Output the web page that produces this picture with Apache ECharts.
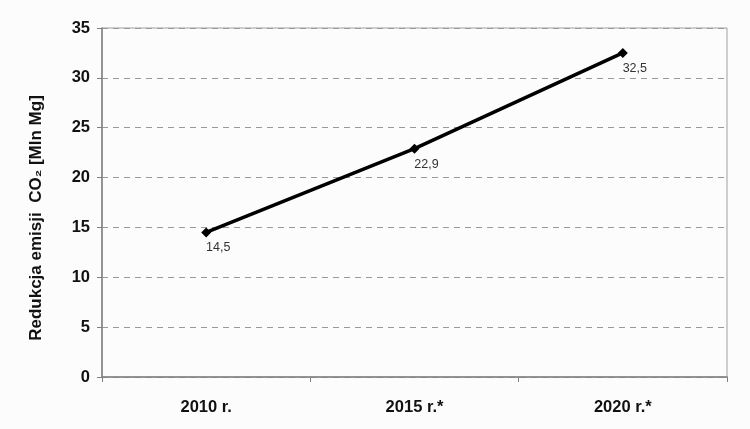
<!DOCTYPE html>
<html><head><meta charset="utf-8">
<script src="https://cdn.jsdelivr.net/npm/echarts@6/dist/echarts.min.js"></script>
<style>html,body{margin:0;padding:0;background:#fff}#c{width:750px;height:429px}</style>
</head><body><div id="c"></div>
<script>
const categories = ['2010 r.', '2015 r.*', '2020 r.*'];
const values = [14.5, 22.9, 32.5];
const yTicks = [0, 5, 10, 15, 20, 25, 30, 35];

const chart = echarts.init(document.getElementById('c'));
const F = '"Liberation Sans", Arial, sans-serif';
chart.setOption({
  animation: false,
  backgroundColor: '#fcfcfc',
  grid: { left: 102, right: 23, top: 28, bottom: 52, show: true, borderColor: '#a0a0a0', borderWidth: 1, backgroundColor: 'transparent' },
  xAxis: {
    type: 'category', data: categories, boundaryGap: true,
    axisLine: { lineStyle: { color: '#808080', width: 1.5 } },
    axisTick: { show: true, length: 5, lineStyle: { color: '#808080' } },
    axisLabel: { color: '#111', fontFamily: F, fontWeight: 'bold', fontSize: 16.5, margin: 22 }
  },
  yAxis: {
    type: 'value', min: yTicks[0], max: yTicks[yTicks.length - 1], interval: 5,
    axisLine: { show: true, lineStyle: { color: '#808080', width: 1.5 } },
    axisTick: { show: true, length: 5, lineStyle: { color: '#808080' } },
    axisLabel: { color: '#111', fontFamily: F, fontWeight: 'bold', fontSize: 16.5, margin: 12 },
    splitLine: { lineStyle: { color: '#999', type: [6, 5], width: 1 } }
  },
  graphic: [{
    type: 'text', x: 36, y: 218, rotation: Math.PI / 2,
    style: {
      text: 'Redukcja emisji  CO₂ [Mln Mg]',
      fontFamily: F, fontWeight: 'bold', fontSize: 17, fill: '#111',
      align: 'center', verticalAlign: 'middle'
    }
  }],
  series: [{
    type: 'line', data: values,
    lineStyle: { color: '#000', width: 3.5 },
    itemStyle: { color: '#000' },
    symbol: 'diamond', symbolSize: 10,
    label: {
      show: true, position: 'bottom', distance: 2, offset: [12, 2],
      color: '#333', fontFamily: F, fontSize: 12.5,
      formatter: p => String(p.value).replace('.', ',')
    }
  }]
});
</script></body></html>
